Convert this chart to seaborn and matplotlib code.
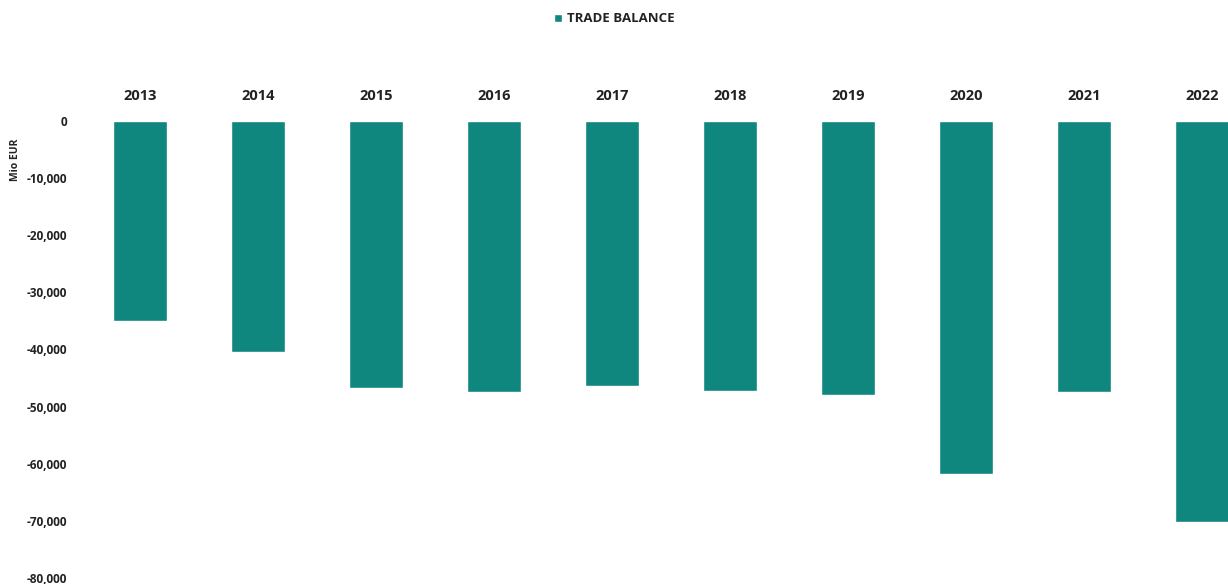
import numpy as np
import pandas as pd
import matplotlib.pyplot as plt
import seaborn as sns

# Trade balance per year (Mio EUR)
anos = ["2013", "2014", "2015", "2016", "2017", "2018", "2019", "2020", "2021", "2022"]
saldo = [-35000, -40400, -46700, -47500, -46400, -47300, -48000, -61800, -47500, -70200]
yticks = [0, -10000, -20000, -30000, -40000, -50000, -60000, -70000, -80000]

cor = "#0f877e"

sns.set_theme(style="white")
plt.rcParams['font.family'] = ['Open Sans', 'DejaVu Sans']

df = pd.DataFrame({"ano": anos, "saldo": saldo})

fig = plt.figure(figsize=(12.28, 5.84), dpi=100)
ax = fig.add_axes([81 / 1228, 1 - 578 / 584, 1 - 81 / 1228, (578 - 121) / 584])

sns.barplot(data=df, x="ano", y="saldo", color=cor, width=0.46, saturation=1, ax=ax,
            label="TRADE BALANCE")

ax.set_ylim(-80000, 0)
ax.set_xlim(-0.5, 9.22)
ax.set_yticks(yticks)
ax.set_yticklabels([f"{v:,}" for v in yticks], fontsize=8.5, fontweight="bold", color="#222222")
for t in ax.get_yticklabels():
    t.set_clip_on(False)

ax.xaxis.tick_top()
ax.tick_params(axis="x", length=0, pad=13, labelsize=10.5)
ax.tick_params(axis="y", length=0, pad=10)
for t in ax.get_xticklabels():
    t.set_fontweight("bold")
    t.set_color("#222222")
ax.set_xlabel("")
ax.set_ylabel("")
fig.text(15 / 1228, 1 - 160 / 584, "Mio EUR", rotation=90, fontsize=7.5, fontweight="bold",
         ha="center", va="center", color="#222222")

for s in ax.spines.values():
    s.set_visible(False)
ax.grid(False)

leg = ax.legend(loc="center", bbox_to_anchor=(0.5, 1 - 19 / 584), bbox_transform=fig.transFigure,
                frameon=False, handlelength=0.6, handleheight=0.6, handletextpad=0.4,
                prop={"weight": "bold", "size": 9.5})
for t in leg.get_texts():
    t.set_color("#222222")

fig.savefig("out.png", dpi=100)
